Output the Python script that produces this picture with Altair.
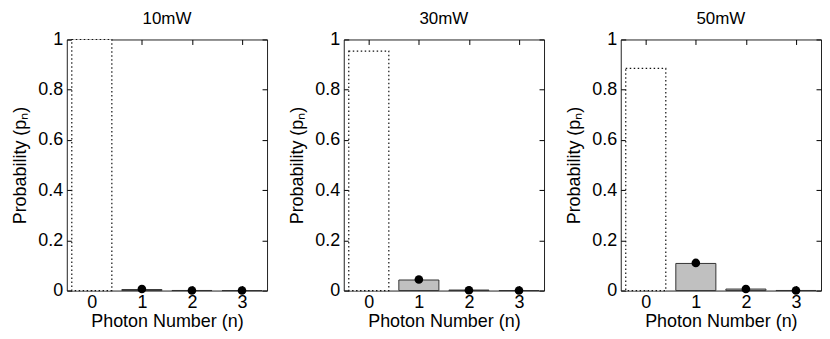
import altair as alt
import pandas as pd

powers = ["10mW", "30mW", "50mW"]
photon_n = [0, 1, 2, 3]
# bar heights (measured distribution) per power, n = 0..3
bar_p = {
    "10mW": [1.0, 0.004, 0.0003, 0.0],
    "30mW": [0.954, 0.042, 0.002, 0.0001],
    "50mW": [0.885, 0.108, 0.006, 0.0003],
}
# circle markers (theory) for n = 1..3
dot_n = [1, 2, 3]
dot_p = {
    "10mW": [0.006, 0.0, 0.0],
    "30mW": [0.044, 0.001, 0.0],
    "50mW": [0.11, 0.006, 0.0002],
}
y_ticks = [0, 0.2, 0.4, 0.6, 0.8, 1]
x_ticks = [0, 1, 2, 3]

FONT = "Liberation Sans"
W, H = 201, 252


def panel(pw):
    bars = pd.DataFrame({"n": photon_n, "p": bar_p[pw]})
    dots = pd.DataFrame({"n": dot_n, "p": dot_p[pw]})
    xs = alt.Scale(domain=[-0.5, 3.5], nice=False, zero=False)
    ys = alt.Scale(domain=[0, 1], nice=False)

    base = alt.Chart(bars).transform_calculate(
        x0="datum.n - 0.4", x1="datum.n + 0.4"
    )
    bar0 = base.transform_filter("datum.n == 0").mark_bar(
        fill="white", stroke="#111", strokeDash=[1.5, 2.5], strokeWidth=1.2
    ).encode(
        x=alt.X("x0:Q", scale=xs, axis=None),
        x2="x1:Q",
        y=alt.Y("p:Q", scale=ys, axis=None),
        y2=alt.datum(0),
    )
    barn = base.transform_filter("datum.n > 0").mark_bar(
        fill="#c0c0c0", stroke="#333", strokeWidth=1
    ).encode(
        x=alt.X("x0:Q", scale=xs, axis=alt.Axis(
            orient="bottom", values=x_ticks, format="d", title="Photon Number (n)",
            offset=-5, tickSize=5, domain=False, grid=False, labelPadding=3,
            titlePadding=1, tickColor="#000", tickWidth=1)),
        x2="x1:Q",
        y=alt.Y("p:Q", scale=ys, axis=alt.Axis(
            orient="left", values=y_ticks, format="~g", title="Probability (pₙ)",
            offset=-5, tickSize=5, domain=False, grid=False, labelPadding=4,
            titlePadding=8, tickColor="#000", tickWidth=1)),
        y2=alt.datum(0),
    )
    dot = alt.Chart(dots).mark_circle(color="black", opacity=1, size=75).encode(
        x=alt.X("n:Q", scale=xs, axis=alt.Axis(
            orient="top", values=x_ticks, labels=False, title=None,
            offset=-5, tickSize=5, domain=False, grid=False, tickColor="#000",
            tickWidth=1)),
        y=alt.Y("p:Q", scale=ys, axis=alt.Axis(
            orient="right", values=y_ticks, labels=False, title=None,
            offset=-5, tickSize=5, domain=False, grid=False, tickColor="#000",
            tickWidth=1)),
    )
    return alt.layer(bar0, barn, dot).resolve_axis(
        x="independent", y="independent"
    ).properties(width=W, height=H, title=pw)


chart = alt.hconcat(*[panel(p) for p in powers], spacing=20).properties(
    padding={"left": 3, "top": 0, "right": 0, "bottom": 0}
).configure_view(
    stroke="#222", strokeWidth=1
).configure_axis(
    labelFont=FONT, titleFont=FONT, labelFontSize=18, titleFontSize=18,
    labelColor="#000", titleColor="#000", titleFontWeight="normal",
).configure_title(
    font=FONT, fontSize=17, fontWeight="normal", color="#000", offset=3
)

chart.save("out.html", embed_options={"renderer": "svg", "actions": False})
